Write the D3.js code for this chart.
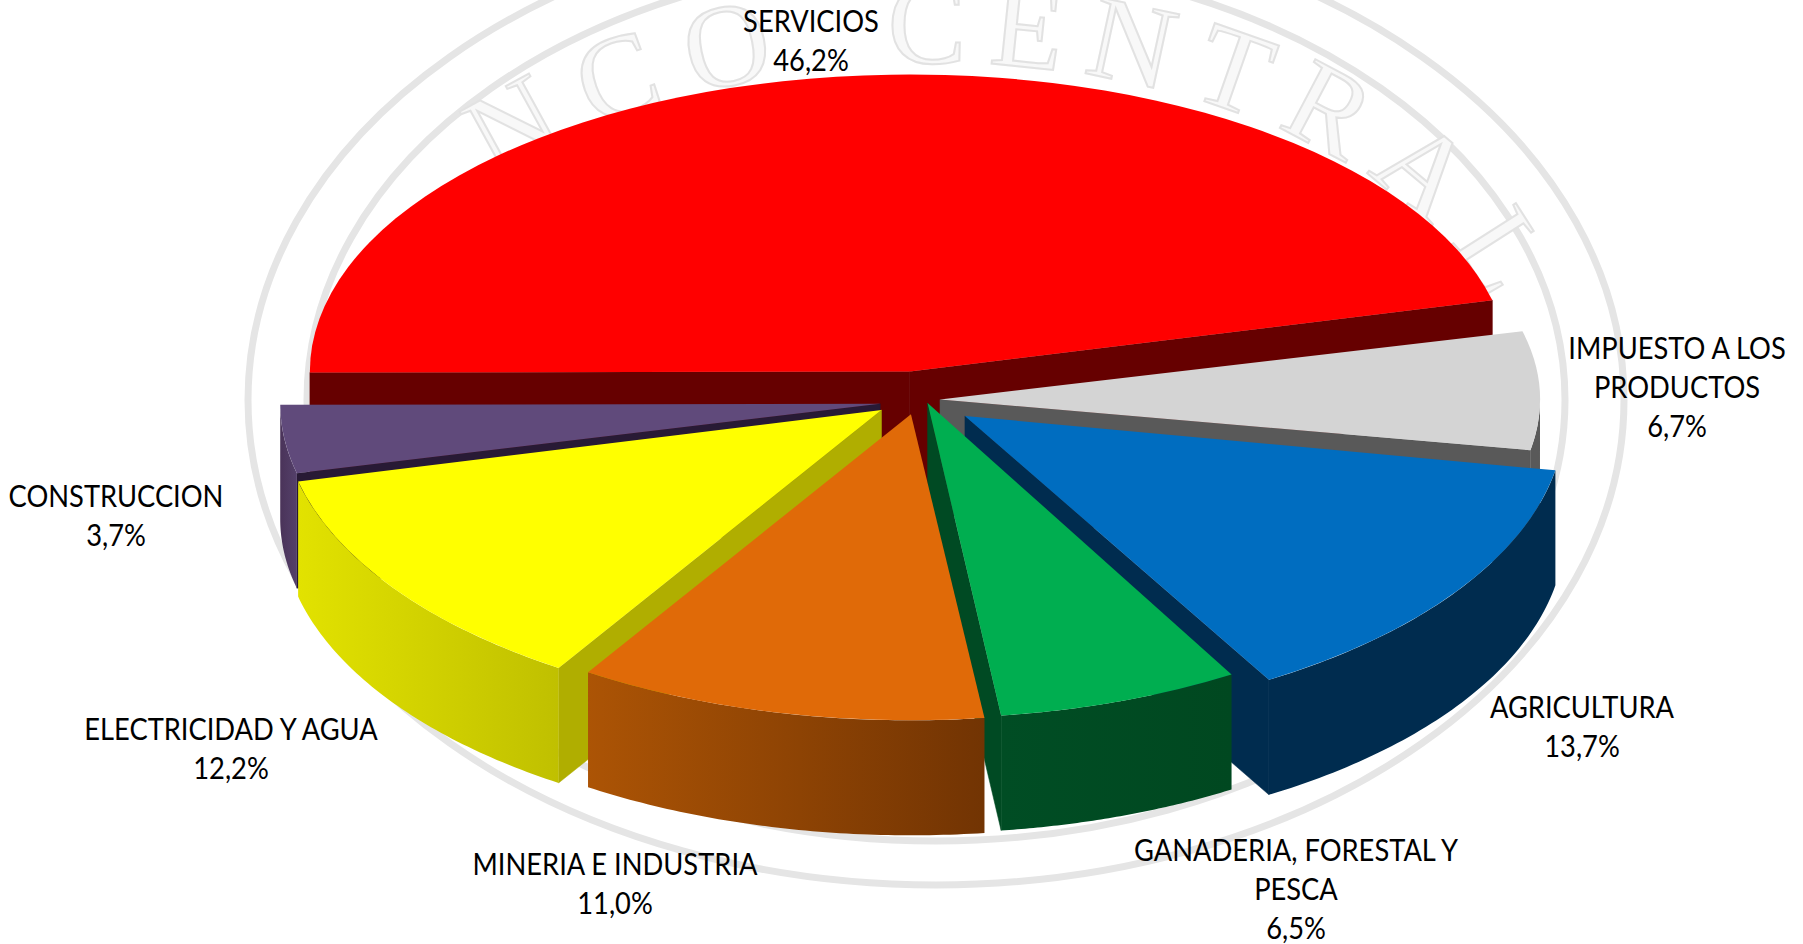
<!DOCTYPE html>
<html><head><meta charset="utf-8">
<script src="https://d3js.org/d3.v7.min.js"></script>
<style>html,body{margin:0;padding:0;background:#fff}svg{display:block}</style>
</head><body><svg id="c" width="1803" height="944"></svg>
<script>
const categories=["SERVICIOS","IMPUESTO A LOS PRODUCTOS","AGRICULTURA","GANADERIA, FORESTAL Y PESCA","MINERIA E INDUSTRIA","ELECTRICIDAD Y AGUA","CONSTRUCCION"];
const values=[46.2,6.7,13.7,6.5,11.0,12.2,3.7];
const labelLines=[["SERVICIOS"],["IMPUESTO A LOS","PRODUCTOS"],["AGRICULTURA"],["GANADERIA, FORESTAL Y","PESCA"],["MINERIA E INDUSTRIA"],["ELECTRICIDAD Y AGUA"],["CONSTRUCCION"]];
const explosion=[54,31,67,36,41,35,30];
const nudgeX=[6.5,-1,0,6,10,0,0];
const nudgeY=[1,3,0,-11,-2.5,3,5];
const flatten=[0.495,0.475,0.51,0.525,0.51,0.51,0.495];
const topColors=["#ff0000","#d4d4d4","#006dc0","#00ae50","#e06a08","#ffff00","#604a7b"];
const faceColors=["#660000","#595959","#002c4f","#004a23","#763603","#b0ae00","#281a35"];
const wallFrom=["#660000","#595959","#002c4f","#004d24","#ac5405","#e2e200","#4a3359"];
const wallTo=["#660000","#595959","#002c4f","#004820","#723403","#c0c000","#54406a"];
const labelAnchors=[[811,21],[1677,348],[1582,707],[1296,850],[615,864],[231,729],[116,496]];

const W=1803,H=944,cx=910,cy=397,R=600,K0=0.495,DEPTH=115,TAU=Math.PI*2;
const svg=d3.select("#c");
const defs=svg.append("defs");

// watermark
const wm=svg.append("g");
const WC=[936,400];
[[688,485],[629,441]].forEach(([rx,ry])=>{
  wm.append("ellipse").attr("cx",WC[0]).attr("cy",WC[1]).attr("rx",rx).attr("ry",ry)
    .attr("fill","none").attr("stroke","#e5e5e5").attr("stroke-width",7);
});
const trx=575,trY=337;
defs.append("path").attr("id","wmPath")
  .attr("d",`M${WC[0]-trx},${WC[1]}A${trx},${trY} 0 0 1 ${WC[0]+trx},${WC[1]}`);
[["NCO",265,27],["CENTRAL",680,22]].forEach(([word,off,sp])=>{
  wm.append("text").attr("font-family","Liberation Serif").attr("font-size",118)
    .attr("letter-spacing",sp).attr("fill","#f8f8f8").attr("stroke","#e2e2e2").attr("stroke-width",2)
    .append("textPath").attr("href","#wmPath").attr("startOffset",off).text(word);
});

// pie
const rad=d=>d*Math.PI/180;
const pie=d3.pie().sort(null).startAngle(rad(-90.2)).endAngle(rad(269.8)).value(d=>d);
const arcs=pie(values);
const arcGen=d3.arc().innerRadius(0).outerRadius(R);
const line=d3.line();
const order=[0,1,6,2,3,5,4];

order.forEach(i=>{
  const a=arcs[i], K=flatten[i];
  const mid=(a.startAngle+a.endAngle)/2;
  const ox=cx+nudgeX[i]+explosion[i]*Math.sin(mid), oy=cy+nudgeY[i]-explosion[i]*Math.cos(mid)*K0;
  const pt=t=>[ox+R*Math.sin(t),oy-R*K*Math.cos(t)];
  const g=svg.append("g");
  const down=p=>[p[0],p[1]+DEPTH];
  const face=t=>{const r=pt(t);const o=[ox,oy];
    g.append("path").attr("d",line([o,r,down(r),down(o)])+"Z")
     .attr("fill",faceColors[i]).attr("stroke",faceColors[i]).attr("stroke-width",.5);};
  if(Math.sin(a.startAngle)<0) face(a.startAngle);
  if(Math.sin(a.endAngle)>0) face(a.endAngle);
  // outer wall: front half only
  let s=a.startAngle,e=a.endAngle;
  const lo=Math.PI/2,hi=Math.PI*1.5;
  const base=Math.floor(s/TAU)*TAU;
  const s0=Math.max(s,base+lo), e0=Math.min(e,base+hi);
  if(e0>s0){
    const ts=d3.range(0,61).map(j=>s0+(e0-s0)*j/60);
    const upper=ts.map(pt), lower=ts.map(t=>down(pt(t))).reverse();
    const xs=upper.map(p=>p[0]);
    const id="w"+i;
    const gr=defs.append("linearGradient").attr("id",id).attr("gradientUnits","userSpaceOnUse")
      .attr("x1",d3.min(xs)).attr("x2",d3.max(xs)).attr("y1",0).attr("y2",0);
    gr.append("stop").attr("offset",0).attr("stop-color",wallFrom[i]);
    gr.append("stop").attr("offset",1).attr("stop-color",wallTo[i]);
    g.append("path").attr("d",line(upper.concat(lower))+"Z").attr("fill",`url(#${id})`);
  }
  g.append("path").attr("transform",`translate(${ox},${oy}) scale(1,${K})`)
    .attr("d",arcGen(a)).attr("fill",topColors[i]);
});

// labels
const fmt=v=>v.toFixed(1).replace(".",",")+"%";
const LH=39.3;
categories.forEach((c,i)=>{
  const lines=labelLines[i].concat([fmt(values[i])]);
  lines.forEach((l,j)=>{
    svg.append("text").attr("font-family","Lato").attr("font-size",27.3).attr("fill","#000")
      .attr("text-anchor","middle").attr("dy","0.35em")
      .attr("transform",`translate(${labelAnchors[i][0]},${labelAnchors[i][1]+j*LH}) scale(1,1.12)`)
      .text(l);
  });
});
</script></body></html>
